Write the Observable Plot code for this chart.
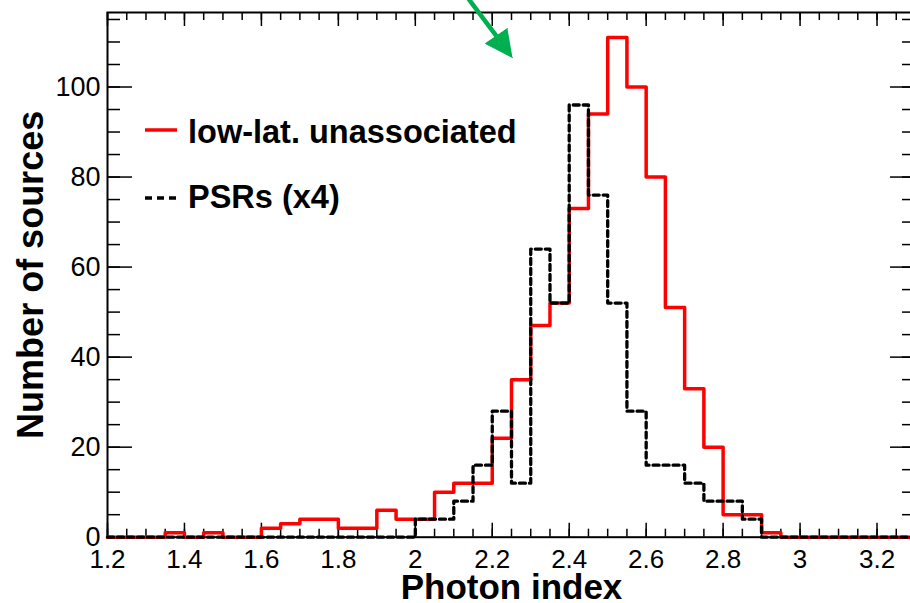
<!DOCTYPE html>
<html><head><meta charset="utf-8">
<script src="https://cdn.jsdelivr.net/npm/d3@7"></script>
<script src="https://cdn.jsdelivr.net/npm/@observablehq/plot@0.6"></script>
<style>
html,body{margin:0;padding:0;background:#fff;overflow:hidden;width:910px;height:603px;}
#wrap{position:relative;width:910px;height:603px;overflow:hidden;}
#chart{position:absolute;left:0;top:0;width:920px;}
#chart svg{max-width:none !important;}
.lg{position:absolute;white-space:nowrap;font-family:"Liberation Sans",Arial,Helvetica,sans-serif;font-weight:bold;font-size:32.5px;line-height:32px;color:#000;}
.sw{position:absolute;}
</style></head>
<body><div id="wrap"><div id="chart"></div>
<svg class="sw" style="left:140px;top:120px" width="45" height="90">
  <line x1="5" x2="37" y1="10" y2="10" stroke="#ff0000" stroke-width="3.5"/>
  <line x1="5" x2="37" y1="78" y2="78" stroke="#000" stroke-width="3.5" stroke-dasharray="7,5"/>
</svg>
<div class="lg" id="lg1" style="left:188px;top:116px"></div>
<div class="lg" id="lg2" style="left:188px;top:181px"></div>
</div>
<script>
// Bin lower edges (bin width 0.05)
const binStart = [1.20,1.25,1.30,1.35,1.40,1.45,1.50,1.55,1.60,1.65,1.70,1.75,1.80,1.85,1.90,1.95,
  2.00,2.05,2.10,2.15,2.20,2.25,2.30,2.35,2.40,2.45,2.50,2.55,2.60,2.65,2.70,2.75,2.80,2.85,2.90,2.95,
  3.00,3.05,3.10,3.15,3.20,3.25];
const binEnd = 3.30;
const lowLatCounts = [0,0,0,1,0,1,0,0,2,3,4,4,2,2,6,4,
  4,10,12,12,22,35,47,52,73,94,111,100,80,51,33,20,5,5,1,0,
  0,0,0,0,0,0];
const psrCounts = [0,0,0,0,0,0,0,0,0,0,0,0,0,0,0,0,
  4,4,8,16,28,12,64,52,96,76,52,28,16,16,12,8,8,4,0,0,
  0,0,0,0,0,0];
const seriesNames = ["low-lat. unassociated", "PSRs (x4)"];
const xTicks = [1.2,1.4,1.6,1.8,2.0,2.2,2.4,2.6,2.8,3.0,3.2];
const xTickLabels = ["1.2","1.4","1.6","1.8","2","2.2","2.4","2.6","2.8","3","3.2"];
const yTicks = [0,20,40,60,80,100];
const yTickLabels = ["0","20","40","60","80","100"];
const xTitle = "Photon index";
const yTitle = "Number of sources";
const yMax = 116.55;
// annotation arrow (data units)
const arrowShaftX = [2.1356, 2.2109];
const arrowShaftY = [119.9, 111.3];
const arrowHeadX = [2.2525, 2.1823, 2.2395];
const arrowHeadY = [106.55, 109.66, 113.0];

document.getElementById("lg1").textContent = seriesNames[0];
document.getElementById("lg2").textContent = seriesNames[1];

function steps(counts) {
  const pts = binStart.map((x, i) => ({x, y: counts[i]}));
  pts.push({x: binEnd, y: counts[counts.length - 1]});
  return pts;
}
const xMinor = d3.range(0, 43).map(i => 1.2 + i * 0.05);
const yMinor = d3.range(0, 24).map(i => i * 5);

const width = 920, height = 603, mL = 107, mR = 5, mT = 12, mB = 66.3;
const H = height - mT - mB, W = width - mL - mR;

const chart = Plot.plot({
  width, height,
  marginLeft: mL, marginRight: mR, marginTop: mT, marginBottom: mB,
  style: {fontFamily: "Liberation Sans, Arial, Helvetica, sans-serif", background: "transparent", overflow: "visible", maxWidth: "none"},
  x: {domain: [1.2, binEnd]},
  y: {domain: [0, yMax]},
  marks: [
    Plot.tickX(xMinor, {x: d => d, insetTop: H - 8, stroke: "#000", strokeWidth: 1.5}),
    Plot.tickX(xTicks, {x: d => d, insetTop: H - 14, stroke: "#000", strokeWidth: 1.5}),
    Plot.tickX(xMinor, {x: d => d, insetBottom: H - 8, stroke: "#000", strokeWidth: 1.5}),
    Plot.tickX(xTicks, {x: d => d, insetBottom: H - 14, stroke: "#000", strokeWidth: 1.5}),
    Plot.tickY(yMinor, {y: d => d, insetRight: W - 13, stroke: "#000", strokeWidth: 1.5}),
    Plot.tickY(yTicks, {y: d => d, insetRight: W - 25, stroke: "#000", strokeWidth: 1.5}),
    Plot.tickY(yMinor, {y: d => d, insetLeft: W - 13, stroke: "#000", strokeWidth: 1.5}),
    Plot.tickY(yTicks, {y: d => d, insetLeft: W - 25, stroke: "#000", strokeWidth: 1.5}),
    Plot.axisX(xTicks, {tickSize: 0, tickPadding: 12, fontSize: 26, label: null,
      tickFormat: d => xTickLabels[xTicks.indexOf(d)]}),
    Plot.axisY(yTicks, {tickSize: 0, tickPadding: 7, fontSize: 27, label: null,
      tickFormat: d => yTickLabels[yTicks.indexOf(d)]}),
    Plot.frame({stroke: "#000", strokeWidth: 2}),
    Plot.line(steps(lowLatCounts), {x: "x", y: "y", curve: "step-after", stroke: "#ff0000", strokeWidth: 3.5}),
    Plot.line(steps(psrCounts), {x: "x", y: "y", curve: "step-after", stroke: "#000", strokeWidth: 3.3, strokeDasharray: "6,4"}),
    Plot.text([xTitle], {text: d => d, frameAnchor: "bottom", lineAnchor: "middle", textAnchor: "middle", dy: 51, fontSize: 35, fontWeight: "bold", fill: "#000"}),
    Plot.text([yTitle], {text: d => d, frameAnchor: "left", lineAnchor: "middle", textAnchor: "middle", dx: -76, rotate: -90, fontSize: 36, fontWeight: "bold", fill: "#000"}),
    Plot.line(arrowShaftX.map((x, i) => ({x, y: arrowShaftY[i]})), {x: "x", y: "y", stroke: "#00b050", strokeWidth: 4.5, clip: false}),
    Plot.line(arrowHeadX.map((x, i) => ({x, y: arrowHeadY[i]})), {x: "x", y: "y", fill: "#00b050", stroke: "#00b050", strokeWidth: 1, strokeLinejoin: "miter"})
  ]
});
chart.style.maxWidth = "none";
document.getElementById("chart").appendChild(chart);
</script>
</body></html>
